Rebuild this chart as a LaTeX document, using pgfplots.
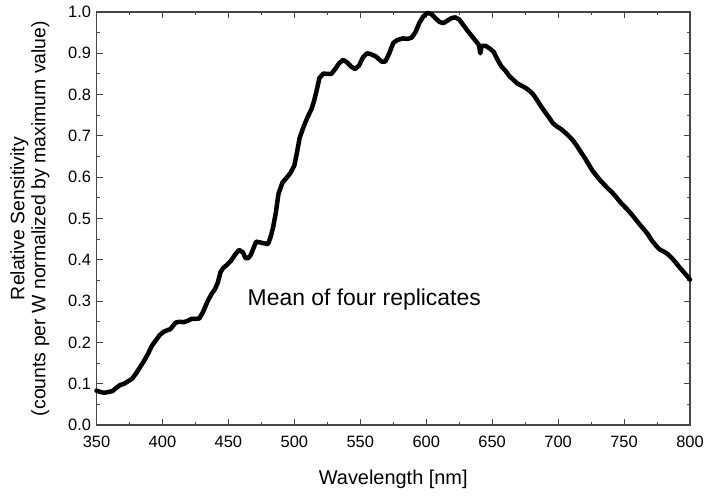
\documentclass[border=0pt]{standalone}
\usepackage{pgfplots}
\pgfplotsset{compat=1.18}
\usepackage{fontspec}
\setmainfont{Liberation Sans}
\definecolor{axgray}{RGB}{70,70,70}
\begin{document}
\begin{tikzpicture}
\begin{axis}[
  name=ax,
  scale only axis,
  width=593.5bp, height=413bp,
  xmin=350, xmax=800, ymin=0, ymax=1.0,
  xtick={350,400,...,800},
  ytick={0,0.1,...,1.0},
  minor x tick num=1, minor y tick num=1,
  tick align=inside,
  major tick length=6bp, minor tick length=3.5bp,
  axis line style={axgray, line width=1.3bp},
  every tick/.style={axgray, line width=1bp},
  /pgf/number format/assume math mode=true,
  ticklabel style={font=\fontsize{16.5}{19}\selectfont},
  yticklabel style={/pgf/number format/.cd, fixed, fixed zerofill, precision=1},
  xticklabel style={/pgf/number format/.cd, fixed, 1000 sep={}},
  xticklabel shift=7.5bp,
  yticklabel shift=2bp,
  xlabel={Wavelength [nm]},
  ylabel={Relative Sensitivity\\(counts per W normalized by maximum value)},
  xlabel style={font=\fontsize{20}{22}\selectfont, at={(axis description cs:0.5,-0.108)}, anchor=north, inner sep=0pt},
  ylabel style={font=\fontsize{19.5}{21}\selectfont, align=center, at={(axis description cs:-0.079,0.5)}, anchor=south, inner sep=0pt},
  clip=false,
]
\addplot[black, line width=4.5bp, line join=round, line cap=round] coordinates {
(350,0.083) (353,0.080) (356,0.078) (359,0.080) (362,0.082) (365,0.090) (368,0.097) (371,0.100) (374,0.106) (377,0.112)
(380,0.125) (383,0.140) (386,0.155) (389,0.172) (392,0.192) (395,0.205) (398,0.218) (401,0.226) (404,0.230) (406,0.232)
(408,0.240) (410,0.248) (413,0.250) (416,0.249) (419,0.252) (422,0.257) (425,0.257) (428,0.258) (431,0.275) (434,0.298)
(437,0.316) (440,0.330) (442,0.345) (444,0.370) (446,0.380) (449,0.388) (452,0.398) (455,0.412) (458,0.424) (461,0.418)
(463,0.404) (465,0.404) (467,0.412) (469,0.428) (471,0.444) (474,0.442) (477,0.440) (480,0.438) (482,0.455) (484,0.480)
(486,0.515) (488,0.560) (491,0.587) (494,0.598) (497,0.610) (500,0.628) (502,0.660) (504,0.695) (507,0.722) (510,0.745)
(513,0.765) (515,0.785) (517,0.811) (519,0.840) (522,0.851) (525,0.850) (528,0.850) (531,0.862) (534,0.876) (537,0.884)
(540,0.878) (543,0.868) (546,0.862) (549,0.870) (552,0.890) (555,0.900) (558,0.898) (562,0.892) (566,0.880) (569,0.880)
(572,0.900) (575,0.925) (578,0.932) (582,0.936) (586,0.935) (589,0.938) (592,0.952) (595,0.975) (598,0.990) (601,0.998)
(604,0.995) (607,0.985) (610,0.976) (613,0.973) (616,0.979) (619,0.985) (622,0.987) (625,0.982) (628,0.969) (631,0.956)
(634,0.944) (637,0.932) (640,0.920) (641,0.900) (642,0.918) (645,0.918) (648,0.912) (651,0.904) (654,0.885) (657,0.868)
(660,0.858) (663,0.845) (666,0.836) (669,0.827) (672,0.822) (675,0.817) (678,0.810) (681,0.801) (684,0.787) (687,0.772)
(690,0.758) (693,0.745) (696,0.731) (699,0.723) (702,0.717) (705,0.709) (708,0.700) (711,0.690) (714,0.677) (717,0.662)
(720,0.648) (723,0.632) (726,0.616) (729,0.604) (732,0.592) (735,0.582) (738,0.572) (741,0.563) (744,0.552) (747,0.540)
(750,0.530) (753,0.520) (756,0.509) (759,0.497) (762,0.485) (765,0.474) (768,0.462) (771,0.447) (774,0.435) (777,0.425)
(780,0.420) (783,0.414) (786,0.405) (789,0.394) (792,0.382) (795,0.371) (798,0.360) (800,0.352)
};
\node[anchor=base, font=\fontsize{23}{26}\selectfont, inner sep=0pt] at (axis cs:553,0.29) {Mean of four replicates};
\end{axis}
\pgfresetboundingbox
\path ([xshift=-96.5bp,yshift=-70bp]ax.south west) rectangle ([xshift=15bp,yshift=12bp]ax.north east);
\end{tikzpicture}
\end{document}
